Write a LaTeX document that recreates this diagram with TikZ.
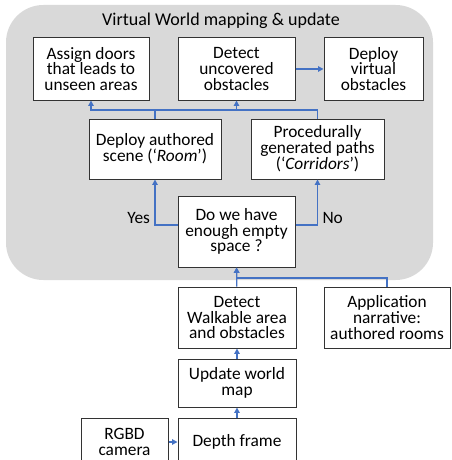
\documentclass[tikz,border=0pt]{standalone}
\usepackage{fontspec}
\setmainfont{Carlito}
\usetikzlibrary{arrows.meta,positioning}
\definecolor{flowblue}{RGB}{68,114,196}
\definecolor{panelgray}{RGB}{217,217,217}
\begin{document}
\begin{tikzpicture}[x=0.75pt,y=-0.75pt,
  blk/.style={draw=black!80,fill=white,line width=0.75pt,align=center,
    font=\fontsize{13}{11.9}\selectfont,inner sep=1pt},
  flow/.style={-{Triangle[length=4pt,width=4pt]},flowblue,line width=0.9pt},
  lbl/.style={font=\fontsize{13}{12}\selectfont,text=black}
]
  \useasboundingbox (0,0) rectangle (451,460);
  \clip (0,0) rectangle (451,460);
  % Panel
  \fill[panelgray,rounded corners=28pt] (6,5) rectangle (433,280);
  \node[lbl,font=\fontsize{13.5}{12}\selectfont] (title) at (221,21)
    {Virtual World mapping \& update};
  % Top row
  \node[blk,minimum width=87pt,minimum height=46.5pt] (doors) at (91,69)
    {Assign doors\\that leads to\\unseen areas};
  \node[blk,minimum width=87.75pt,minimum height=46.5pt] (detect) at (236.5,69)
    {Detect\\uncovered\\obstacles};
  \node[blk,minimum width=74.25pt,minimum height=46.5pt] (deploy) at (373.5,69)
    {Deploy\\virtual\\obstacles};
  % Scene generation
  \node[blk,minimum width=99pt,minimum height=45pt] (room) at (155,149)
    {Deploy authored\\scene (‘\textit{Room}’)};
  \node[blk,minimum width=99.75pt,minimum height=45pt] (corr) at (317.5,149)
    {Procedurally\\generated paths\\(‘\textit{Corridors}’)};
  % Decision
  \node[blk,minimum width=87.75pt,minimum height=53.25pt] (dec) at (236.5,231.5)
    {Do we have\\enough empty\\space ?};
  % Inputs
  \node[blk,minimum width=88.5pt,minimum height=45.75pt] (walk) at (237,317.5)
    {Detect\\Walkable area\\and obstacles};
  \node[blk,minimum width=94.5pt,minimum height=45.75pt] (app) at (387,317.5)
    {Application\\narrative:\\authored rooms};
  \node[blk,minimum width=88.5pt,minimum height=36pt] (update) at (237,383)
    {Update world\\map};
  \node[blk,minimum width=88.5pt,minimum height=36pt] (depth) at (237,442)
    {Depth frame};
  \node[blk,minimum width=65.25pt,minimum height=36pt] (rgbd) at (124.5,442)
    {RGBD\\camera};
  % Bus lines
  \coordinate (bus) at (0,110);
  \coordinate (merge) at (0,278);
  \draw[flow] (detect) -- (deploy);
  \draw[flow] (corr.north) -- (corr.north |- bus) -| (doors.south);
  \draw[flow] (room.north) -- (room.north |- bus) -| (detect.south);
  \draw[flow] ([yshift=4.9pt]dec.west) -| (room.south)
    node[pos=0.5,left,yshift=5pt,lbl]{Yes};
  \draw[flow] ([yshift=4.9pt]dec.east) -| (corr.south)
    node[pos=0.5,right,yshift=5pt,lbl]{No};
  \draw[flow] (walk) -- (dec);
  \draw[flow] (app.north) -- (app.north |- merge) -| (dec.south);
  \draw[flow] (update) -- (walk);
  \draw[flow] (depth) -- (update);
  \draw[flow] (rgbd) -- (depth);
\end{tikzpicture}
\end{document}
